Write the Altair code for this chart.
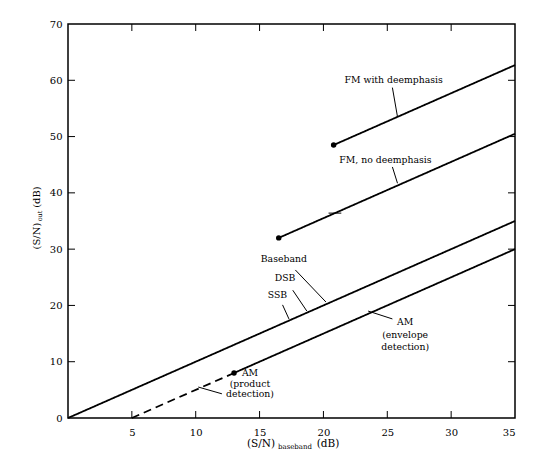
import altair as alt
import pandas as pd

# curves (x = (S/N) baseband dB, y = (S/N) out dB)
baseband_x = [0, 35]
baseband_y = [0, 35]
am_dash_x = [5, 13]
am_dash_y = [0, 8]
am_x = [13, 35]
am_y = [8, 30]
fm_x = [16.5, 35]
fm_y = [32, 50.5]
fmd_x = [20.8, 35]
fmd_y = [48.5, 62.7]

dot_x = [13, 16.5, 20.8]
dot_y = [8, 32, 48.5]

# annotation text and leader lines
label_text = ["FM with deemphasis", "FM, no deemphasis", "Baseband", "DSB", "SSB",
              "AM", "(envelope", "detection)", "AM", "(product", "detection)"]
label_x = [25.5, 24.85, 16.9, 17.0, 16.4, 26.4, 26.4, 26.4, 14.25, 14.25, 14.25]
label_y = [60.0, 45.8, 28.2, 24.9, 21.8, 17.1, 14.8, 12.6, 8.0, 6.0, 4.2]

leader_x = [25.4, 25.4, 17.8, 17.6, 16.8, 25.4, 12.05, 20.4]
leader_y = [58.7, 44.6, 26.3, 22.7, 20.1, 17.6, 4.3, 36.4]
leader_x2 = [25.8, 25.8, 20.2, 18.7, 17.3, 23.5, 10.2, 21.4]
leader_y2 = [53.5, 41.7, 20.6, 19.0, 17.6, 19.0, 5.5, 36.4]

x_ticks = [5, 10, 15, 20, 25, 30]
y_ticks = [10, 20, 30, 40, 50, 60]

W, H = 447, 394
FONT = "DejaVu Serif"

lines = pd.concat([
    pd.DataFrame({"s": "baseband", "x": baseband_x, "y": baseband_y, "dash": "solid"}),
    pd.DataFrame({"s": "am_dash", "x": am_dash_x, "y": am_dash_y, "dash": "dashed"}),
    pd.DataFrame({"s": "am", "x": am_x, "y": am_y, "dash": "solid"}),
    pd.DataFrame({"s": "fm", "x": fm_x, "y": fm_y, "dash": "solid"}),
    pd.DataFrame({"s": "fmd", "x": fmd_x, "y": fmd_y, "dash": "solid"}),
])
dots = pd.DataFrame({"x": dot_x, "y": dot_y})
labels = pd.DataFrame({"t": label_text, "x": label_x, "y": label_y})
leaders = pd.DataFrame({"x": leader_x, "y": leader_y, "x2": leader_x2, "y2": leader_y2})
xt = pd.DataFrame({"v": x_ticks})
yt = pd.DataFrame({"v": y_ticks})

xs = alt.Scale(domain=[0, 35], nice=False)
ys = alt.Scale(domain=[0, 70], nice=False)

base = alt.Chart(lines).mark_line(color="black", strokeWidth=1.8).encode(
    x=alt.X("x:Q", scale=xs, title=None,
            axis=alt.Axis(values=[5, 10, 15, 20, 25, 30, 35], labelPadding=9)),
    y=alt.Y("y:Q", scale=ys, title=None,
            axis=alt.Axis(values=[0, 10, 20, 30, 40, 50, 60, 70], labelPadding=6)),
    detail="s:N",
    strokeDash=alt.StrokeDash("dash:N", scale=alt.Scale(domain=["solid", "dashed"],
                                                         range=[[1, 0], [8, 5]]), legend=None),
)

pts = alt.Chart(dots).mark_circle(color="black", size=30, opacity=1).encode(
    x=alt.X("x:Q", scale=xs), y=alt.Y("y:Q", scale=ys))

lead = alt.Chart(leaders).mark_rule(color="black", strokeWidth=1).encode(
    x=alt.X("x:Q", scale=xs), y=alt.Y("y:Q", scale=ys), x2="x2:Q", y2="y2:Q")

txt = alt.Chart(labels).mark_text(font=FONT, fontSize=9.3, color="black").encode(
    x=alt.X("x:Q", scale=xs), y=alt.Y("y:Q", scale=ys), text="t:N")

# inward ticks on all four sides
tb = alt.Chart(xt).mark_rule(color="black", strokeWidth=1).encode(
    x=alt.X("v:Q", scale=xs), y=alt.value(H), y2=alt.value(H - 7))
tt = alt.Chart(xt).mark_rule(color="black", strokeWidth=1).encode(
    x=alt.X("v:Q", scale=xs), y=alt.value(0), y2=alt.value(7))
tl = alt.Chart(yt).mark_rule(color="black", strokeWidth=1).encode(
    y=alt.Y("v:Q", scale=ys), x=alt.value(0), x2=alt.value(7))
tr = alt.Chart(yt).mark_rule(color="black", strokeWidth=1).encode(
    y=alt.Y("v:Q", scale=ys), x=alt.value(W), x2=alt.value(W - 7))

# axis titles with subscripts
xt1 = alt.Chart(pd.DataFrame({"t": ["(S/N)"]})).mark_text(font=FONT, fontSize=10.5, color="black").encode(
    text="t:N", x=alt.value(193), y=alt.value(420))
xt2 = alt.Chart(pd.DataFrame({"t": ["baseband"]})).mark_text(font=FONT, fontSize=7, color="black").encode(
    text="t:N", x=alt.value(227), y=alt.value(423))
xt3 = alt.Chart(pd.DataFrame({"t": ["(dB)"]})).mark_text(font=FONT, fontSize=10.5, color="black").encode(
    text="t:N", x=alt.value(260), y=alt.value(420))
yt1 = alt.Chart(pd.DataFrame({"t": ["(S/N)"]})).mark_text(font=FONT, fontSize=10, color="black", angle=270).encode(
    text="t:N", x=alt.value(-31), y=alt.value(212))
yt2 = alt.Chart(pd.DataFrame({"t": ["out"]})).mark_text(font=FONT, fontSize=6.5, color="black", angle=270).encode(
    text="t:N", x=alt.value(-28), y=alt.value(192))
yt3 = alt.Chart(pd.DataFrame({"t": ["(dB)"]})).mark_text(font=FONT, fontSize=10, color="black", angle=270).encode(
    text="t:N", x=alt.value(-31), y=alt.value(173))

chart = alt.layer(base, lead, pts, txt, tb, tt, tl, tr, xt1, xt2, xt3, yt1, yt2, yt3).properties(
    width=W, height=H,
    autosize=alt.AutoSizeParams(type="none"),
    padding={"left": 60, "top": 16, "right": 26, "bottom": 41},
).configure_view(
    stroke="black", strokeWidth=1.5
).configure_axis(
    domain=False, ticks=False, grid=False,
    labelFont=FONT, labelFontSize=10, labelColor="black",
)

chart.save("out.html", embed_options={"renderer": "svg", "actions": False})
